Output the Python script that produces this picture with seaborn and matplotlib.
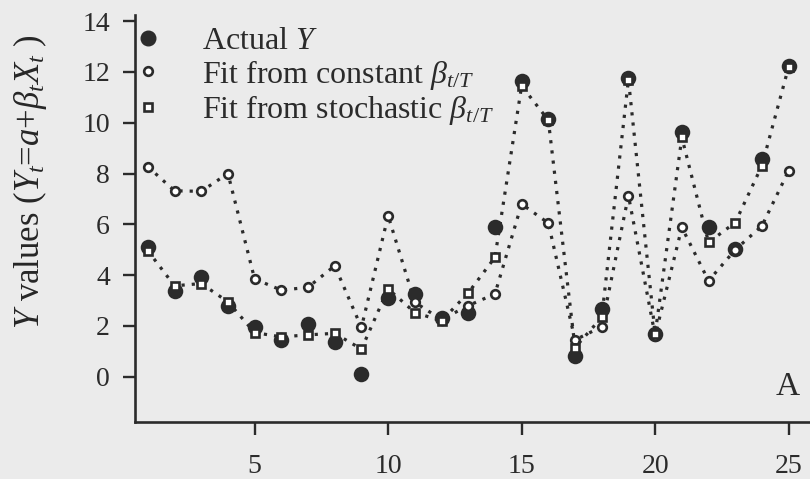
import matplotlib
matplotlib.use("Agg")
import matplotlib.pyplot as plt
from matplotlib.lines import Line2D
import seaborn as sns
import pandas as pd

# Time index
t = list(range(1, 26))

# Observed series
actual_y = [5.12, 3.39, 3.91, 2.80, 1.97, 1.44, 2.07, 1.35, 0.10, 3.10,
            3.26, 2.30, 2.53, 5.88, 11.65, 10.15, 0.83, 2.66, 11.76, 1.70,
            9.62, 5.88, 5.03, 8.57, 12.24]

# Fitted values with a constant beta
fit_constant = [8.27, 7.32, 7.30, 8.00, 3.85, 3.41, 3.52, 4.37, 1.94, 6.34,
                2.93, 2.25, 2.80, 3.26, 6.80, 6.05, 1.45, 1.97, 7.13, 1.62,
                5.88, 3.78, 5.00, 5.94, 8.11]

# Fitted values with a stochastic beta
fit_stochastic = [4.96, 3.58, 3.67, 2.95, 1.74, 1.57, 1.65, 1.71, 1.09, 3.46,
                  2.53, 2.20, 3.30, 4.70, 11.45, 10.10, 1.15, 2.34, 11.70, 1.68,
                  9.42, 5.29, 6.07, 8.31, 12.20]

y_ticks = [0, 2, 4, 6, 8, 10, 12, 14]
x_ticks = [5, 10, 15, 20, 25]

labels = ["Actual $Y$",
          r"Fit from constant $\beta_{t/T}$",
          r"Fit from stochastic $\beta_{t/T}$"]

df = pd.DataFrame({"t": t, "actual": actual_y,
                   "const": fit_constant, "stoch": fit_stochastic})

sns.set_style("ticks")
ink = "#2b2b2b"
bg = "#ebebeb"
plt.rcParams.update({
    "font.family": ["Liberation Serif", "DejaVu Serif"],
    "mathtext.fontset": "custom",
    "mathtext.rm": "Liberation Serif",
    "mathtext.it": "Liberation Serif:italic",
    "mathtext.bf": "Liberation Serif:bold",
    "text.color": ink,
    "axes.edgecolor": ink,
    "xtick.color": ink,
    "ytick.color": ink,
})

fig = plt.figure(figsize=(8.1, 4.79), dpi=100, facecolor=bg)
ax = fig.add_axes([135 / 810, 57 / 479, 1 - 135 / 810, 407 / 479])
ax.set_facecolor(bg)

dots = (0, (1.0, 2.2))

# Observed values: filled circles, no connecting line
sns.scatterplot(data=df, x="t", y="actual", ax=ax, marker="o", s=125,
                color=ink, edgecolor=ink, linewidth=0, zorder=3)

# Constant-beta fit: small open circles joined by a dotted line
sns.lineplot(data=df, x="t", y="const", ax=ax, color=ink, lw=2.3,
             linestyle=dots, marker="o", ms=6.2, mfc="white", mec=ink,
             mew=1.9, zorder=4)

# Stochastic-beta fit: open squares joined by a dotted line
sns.lineplot(data=df, x="t", y="stoch", ax=ax, color=ink, lw=2.3,
             linestyle=dots, marker="s", ms=5.8, mfc="white", mec=ink,
             mew=1.9, zorder=5)

ax.set_xlim(0.52, 25.8)
ax.set_ylim(-1.78, 14.24)
ax.set_xticks(x_ticks)
ax.set_yticks(y_ticks)
ax.tick_params(axis="both", direction="out", length=9, width=1.7,
               labelsize=20, pad=9)
ax.tick_params(axis="x", pad=14)
for side in ("top", "right"):
    ax.spines[side].set_visible(False)
for side in ("left", "bottom"):
    ax.spines[side].set_linewidth(1.9)

ax.set_xlabel("")
ax.set_ylabel(r"$Y$ values ($Y_t$=$a$+$\beta_t X_t$ )", fontsize=25)
ax.yaxis.set_label_coords(-0.128, 0.59)

handles = [
    Line2D([], [], ls="none", marker="o", ms=10.5, color=ink),
    Line2D([], [], ls="none", marker="o", ms=6.2, mfc="white", mec=ink, mew=1.9),
    Line2D([], [], ls="none", marker="s", ms=5.8, mfc="white", mec=ink, mew=1.9),
]
ax.legend(handles, labels, loc="upper left", bbox_to_anchor=(-0.018, 1.003),
          frameon=False, fontsize=23, handlelength=0.8, handletextpad=1.28,
          labelspacing=0.05, borderaxespad=0)

ax.text(0.985, 0.05, "A", transform=ax.transAxes, ha="right", va="bottom",
        fontsize=24)

fig.savefig("out.png", dpi=100, facecolor=bg)
